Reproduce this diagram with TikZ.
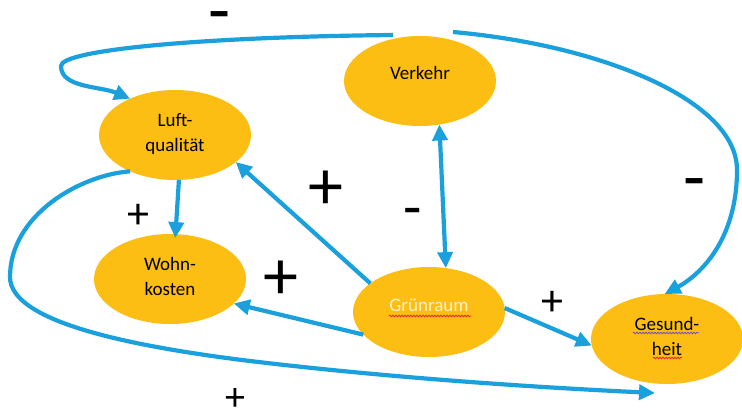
\documentclass[tikz,border=0pt]{standalone}
\usepackage{fontspec}
\setmainfont{Carlito}
\usepackage{tikz}
\usetikzlibrary{positioning,shapes,arrows.meta,decorations.pathmorphing}

\definecolor{bubblegold}{RGB}{252,190,18}
\definecolor{linkblue}{RGB}{27,160,222}
\definecolor{creamtext}{RGB}{255,242,204}
\definecolor{spellred}{RGB}{220,40,40}
\definecolor{spellviolet}{RGB}{120,80,190}

\begin{document}
\begin{tikzpicture}[x=1pt, y=-1pt,
    bubble/.style={ellipse, fill=bubblegold, minimum width=152pt, minimum height=90pt, inner sep=0pt, outer sep=0pt, align=center, text depth=5pt, font=\fontsize{19}{24.5}\selectfont},
    oneline/.style={text height=13.5pt, text depth=15.5pt},
    arrowlink/.style={-{Triangle[length=16pt,width=15pt]}, line width=4.2pt, draw=linkblue},
    bigsign/.style={inner sep=0pt, font=\fontsize{70}{70}\selectfont},
    smallsign/.style={inner sep=0pt, font=\fontsize{44}{44}\selectfont},
    minussign/.style={inner sep=0pt, font=\fontsize{72}{72}\selectfont},
    spell/.style={line width=0.8pt, decorate, decoration={snake, amplitude=0.8pt, segment length=3pt}}
]
    \path[use as bounding box, fill=white] (0,0) rectangle (742,414);

    % Knoten
    \node [bubble, oneline] (verkehr) at (420,81) {Verkehr};
    \node [bubble] (luft) at (175,135) {Luft-\\qualität};
    \node [bubble] (wohn) at (170,279) {Wohn-\\kosten};
    \node [bubble, oneline, text=creamtext] (gruen) at (429,312) {Grünraum};
    \node [bubble] (gesund) at (667,339) {Gesund-\\heit};

    % Verbindungen
    \draw [arrowlink] ([xshift=-27pt,yshift=1pt]verkehr.north) .. controls (200,37) and (61,50) .. (61,66)
        .. controls (61,88) and (100,86) .. (luft.141);
    \draw [arrowlink] ([xshift=33pt,yshift=4pt]verkehr.north) .. controls (600,45) and (737,100) .. (737,170)
        .. controls (737,240) and (700,275) .. (gesund.93);
    \draw [arrowlink, {Triangle[length=16pt,width=15pt]}-{Triangle[length=16pt,width=15pt]}] (gruen.69) -- (verkehr.-66);
    \draw [arrowlink] (gruen.154) -- (luft.-24);
    \draw [arrowlink] (gruen.199) -- (wohn.-21);
    \draw [arrowlink] (gruen.3) -- (gesund.185);
    \draw [arrowlink, shorten >=-4pt] (luft.-85) -- (wohn.83);
    \draw [arrowlink] (luft.219) .. controls (80,175) and (10,215) .. (10,277)
        .. controls (10,320) and (120,345) .. (250,361)
        .. controls (400,379) and (550,388) .. ([xshift=-12pt,yshift=-9pt]gesund.south);

    % Vorzeichen
    \node [minussign] (signvl) at (220,23) {-};
    \node [minussign] (signvg) at (695,190) {-};
    \node [minussign, font=\fontsize{60}{60}\selectfont] (signgv) at (413,218) {-};
    \node [bigsign] (signgl) at (326,190) {+};
    \node [bigsign] (signgw) at (281,280) {+};
    \node [smallsign] (signlw) at (138,216) {+};
    \node [smallsign] (signgg) at (552,303) {+};
    \node [smallsign, font=\fontsize{40}{40}\selectfont] (signlg) at (235,400) {+};

    % Rechtschreibmarkierung
    \draw [spell, spellred] ([xshift=-40pt,yshift=-4pt]gruen.center) -- ++(82,0);
    \draw [spell, spellviolet] ([xshift=-34pt,yshift=6pt]gesund.center) -- ++(66,0);
    \draw [spell, spellred] ([xshift=-14pt,yshift=-19pt]gesund.center) -- ++(29,0);
\end{tikzpicture}
\end{document}
